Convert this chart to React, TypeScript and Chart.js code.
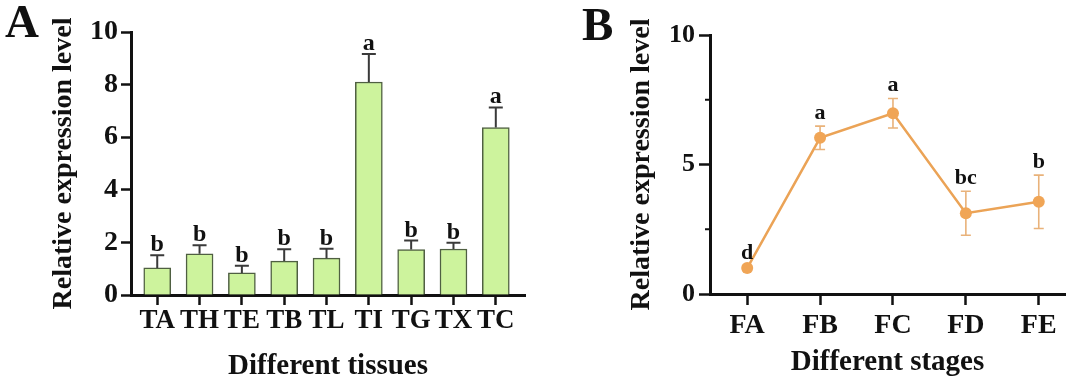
import React, { useEffect, useRef } from 'react';
import { Chart, registerables } from 'chart.js';

Chart.register(...registerables);

// ---------- Panel A data ----------
const tissues = ['TA', 'TH', 'TE', 'TB', 'TL', 'TI', 'TG', 'TX', 'TC'];
const tissueMeans = [1.03, 1.57, 0.84, 1.29, 1.4, 8.1, 1.73, 1.75, 6.37];
const tissueErrors = [0.48, 0.32, 0.27, 0.45, 0.36, 1.06, 0.34, 0.24, 0.76];
const tissueLetters = ['b', 'b', 'b', 'b', 'b', 'a', 'b', 'b', 'a'];
const tissueYTicks = [0, 2, 4, 6, 8, 10];

// ---------- Panel B data ----------
const stages = ['FA', 'FB', 'FC', 'FD', 'FE'];
const stageMeans = [1.0, 6.03, 6.98, 3.12, 3.56];
const stageErrors = [0.1, 0.45, 0.57, 0.85, 1.03];
const stageLetters = ['d', 'a', 'a', 'bc', 'b'];
const stageYTicks = [0, 5, 10];
const stageMinorTicks = [2.5, 7.5];

const SERIF = '"Liberation Serif", "Times New Roman", serif';
const INK = '#111111';

const panelAExtras = {
  id: 'panelAExtras',
  afterDatasetsDraw(chart: any) {
    const { ctx } = chart;
    const x = chart.scales.x;
    const y = chart.scales.y;
    ctx.save();
    ctx.strokeStyle = '#3a3a3a';
    ctx.lineWidth = 2;
    ctx.fillStyle = INK;
    ctx.font = `bold 24px ${SERIF}`;
    ctx.textAlign = 'center';
    ctx.textBaseline = 'alphabetic';
    tissueMeans.forEach((m, i) => {
      const px = x.getPixelForValue(i);
      const base = y.getPixelForValue(m);
      const top = y.getPixelForValue(m + tissueErrors[i]);
      ctx.beginPath();
      ctx.moveTo(px, base);
      ctx.lineTo(px, top);
      ctx.moveTo(px - 7, top);
      ctx.lineTo(px + 7, top);
      ctx.stroke();
      ctx.fillText(tissueLetters[i], px, top - 4);
    });
    ctx.font = `bold 47px ${SERIF}`;
    ctx.textAlign = 'left';
    ctx.fillText('A', 5, 37);
    ctx.restore();
  },
};

const panelBErrors = {
  id: 'panelBErrors',
  beforeDatasetsDraw(chart: any) {
    const { ctx } = chart;
    const x = chart.scales.x;
    const y = chart.scales.y;
    ctx.save();
    ctx.strokeStyle = '#e9b27a';
    ctx.lineWidth = 1.6;
    stageMeans.forEach((m, i) => {
      const px = x.getPixelForValue(i);
      const top = y.getPixelForValue(m + stageErrors[i]);
      const bot = y.getPixelForValue(m - stageErrors[i]);
      ctx.beginPath();
      ctx.moveTo(px, top);
      ctx.lineTo(px, bot);
      ctx.moveTo(px - 5, top);
      ctx.lineTo(px + 5, top);
      ctx.moveTo(px - 5, bot);
      ctx.lineTo(px + 5, bot);
      ctx.stroke();
    });
    ctx.restore();
  },
  afterDatasetsDraw(chart: any) {
    const { ctx, chartArea } = chart;
    const x = chart.scales.x;
    const y = chart.scales.y;
    ctx.save();
    ctx.fillStyle = INK;
    ctx.font = `bold 22px ${SERIF}`;
    ctx.textAlign = 'center';
    ctx.textBaseline = 'alphabetic';
    stageMeans.forEach((m, i) => {
      const px = x.getPixelForValue(i);
      const top = y.getPixelForValue(m + stageErrors[i]);
      ctx.fillText(stageLetters[i], px, top - 7);
    });
    // minor ticks
    ctx.strokeStyle = INK;
    ctx.lineWidth = 2;
    stageMinorTicks.forEach((v) => {
      const py = y.getPixelForValue(v);
      ctx.beginPath();
      ctx.moveTo(chartArea.left - 5, py);
      ctx.lineTo(chartArea.left, py);
      ctx.stroke();
    });
    ctx.font = `bold 47px ${SERIF}`;
    ctx.textAlign = 'left';
    ctx.fillText('B', 42, 40);
    ctx.restore();
  },
};

export default function App() {
  const refA = useRef<HTMLCanvasElement>(null);
  const refB = useRef<HTMLCanvasElement>(null);

  useEffect(() => {
    const chartA = new Chart(refA.current as HTMLCanvasElement, {
      type: 'bar',
      data: {
        datasets: [
          {
            data: tissueMeans.map((v, i) => ({ x: i, y: v })),
            backgroundColor: '#cdf39d',
            borderColor: '#4f5f42',
            borderWidth: 1.5,
            barThickness: 27,
          },
        ],
      },
      options: {
        responsive: false,
        devicePixelRatio: 1,
        animation: false,
        events: [],
        layout: { padding: { top: 32, right: 15, bottom: 0, left: 0 } },
        plugins: { legend: { display: false }, tooltip: { enabled: false } },
        scales: {
          x: {
            type: 'linear',
            min: -0.62,
            max: 8.69,
            offset: false,
            afterFit(s: any) {
              s.height = 89;
            },
            afterBuildTicks(s: any) {
              s.ticks = tissues.map((_, i) => ({ value: i }));
            },
            grid: {
              drawOnChartArea: false,
              drawTicks: true,
              tickLength: 10,
              tickWidth: 2.5,
              tickColor: INK,
              offset: false,
            },
            border: { display: true, color: INK, width: 3 },
            ticks: {
              autoSkip: false,
              maxRotation: 0,
              padding: 0,
              color: INK,
              font: { family: SERIF, size: 27, weight: 'bold' },
              callback: (v: any) => tissues[v] ?? '',
            },
            title: {
              display: true,
              text: 'Different tissues',
              color: INK,
              font: { family: SERIF, size: 29, weight: 'bold' },
              padding: { top: 0, bottom: 0 },
            },
          },
          y: {
            min: 0,
            max: 10,
            afterFit(s: any) {
              s.width = 131;
            },
            afterBuildTicks(s: any) {
              s.ticks = tissueYTicks.map((v) => ({ value: v }));
            },
            grid: {
              drawOnChartArea: false,
              drawTicks: true,
              tickLength: 10,
              tickWidth: 2.5,
              tickColor: INK,
            },
            border: { display: true, color: INK, width: 3 },
            ticks: {
              padding: 3,
              color: INK,
              font: { family: SERIF, size: 28, weight: 'bold' },
            },
            title: {
              display: true,
              text: 'Relative expression level',
              color: INK,
              font: { family: SERIF, size: 28, weight: 'bold' },
              padding: { top: 47, bottom: 0 },
            },
          },
        },
      } as any,
      plugins: [panelAExtras],
    });

    const chartB = new Chart(refB.current as HTMLCanvasElement, {
      type: 'line',
      data: {
        datasets: [
          {
            data: stageMeans.map((v, i) => ({ x: i, y: v })),
            borderColor: '#eba356',
            borderWidth: 2.5,
            pointRadius: 6,
            pointBackgroundColor: '#f0a556',
            pointBorderWidth: 0,
            tension: 0,
          },
        ],
      },
      options: {
        responsive: false,
        devicePixelRatio: 1,
        animation: false,
        events: [],
        layout: { padding: { top: 35, right: 15, bottom: 0, left: 0 } },
        plugins: { legend: { display: false }, tooltip: { enabled: false } },
        scales: {
          x: {
            type: 'linear',
            min: -0.51,
            max: 4.36,
            offset: false,
            afterFit(s: any) {
              s.height = 90;
            },
            afterBuildTicks(s: any) {
              s.ticks = stages.map((_, i) => ({ value: i }));
            },
            grid: {
              drawOnChartArea: false,
              drawTicks: true,
              tickLength: 11,
              tickWidth: 2.5,
              tickColor: INK,
            },
            border: { display: true, color: INK, width: 3 },
            ticks: {
              autoSkip: false,
              maxRotation: 0,
              padding: 4,
              color: INK,
              font: { family: SERIF, size: 28, weight: 'bold' },
              callback: (v: any) => stages[v] ?? '',
            },
            title: {
              display: true,
              text: 'Different stages',
              color: INK,
              font: { family: SERIF, size: 29, weight: 'bold' },
              padding: { top: 0, bottom: 4 },
            },
          },
          y: {
            min: 0,
            max: 10,
            afterFit(s: any) {
              s.width = 170;
            },
            afterBuildTicks(s: any) {
              s.ticks = stageYTicks.map((v) => ({ value: v }));
            },
            grid: {
              drawOnChartArea: false,
              drawTicks: true,
              tickLength: 11,
              tickWidth: 2.5,
              tickColor: INK,
            },
            border: { display: true, color: INK, width: 3 },
            ticks: {
              padding: 4,
              color: INK,
              font: { family: SERIF, size: 26, weight: 'bold' },
            },
            title: {
              display: true,
              text: 'Relative expression level',
              color: INK,
              font: { family: SERIF, size: 28, weight: 'bold' },
              padding: { top: 85, bottom: 0 },
            },
          },
        },
      } as any,
      plugins: [panelBErrors],
    });

    return () => {
      chartA.destroy();
      chartB.destroy();
    };
  }, []);

  return (
    <div
      style={{
        position: 'fixed',
        left: 0,
        top: 0,
        width: 1080,
        height: 384,
        background: '#ffffff',
      }}
    >
      <canvas
        ref={refA}
        width={540}
        height={384}
        style={{ position: 'absolute', left: 0, top: 0, width: 540, height: 384 }}
      />
      <canvas
        ref={refB}
        width={540}
        height={384}
        style={{ position: 'absolute', left: 540, top: 0, width: 540, height: 384 }}
      />
    </div>
  );
}
